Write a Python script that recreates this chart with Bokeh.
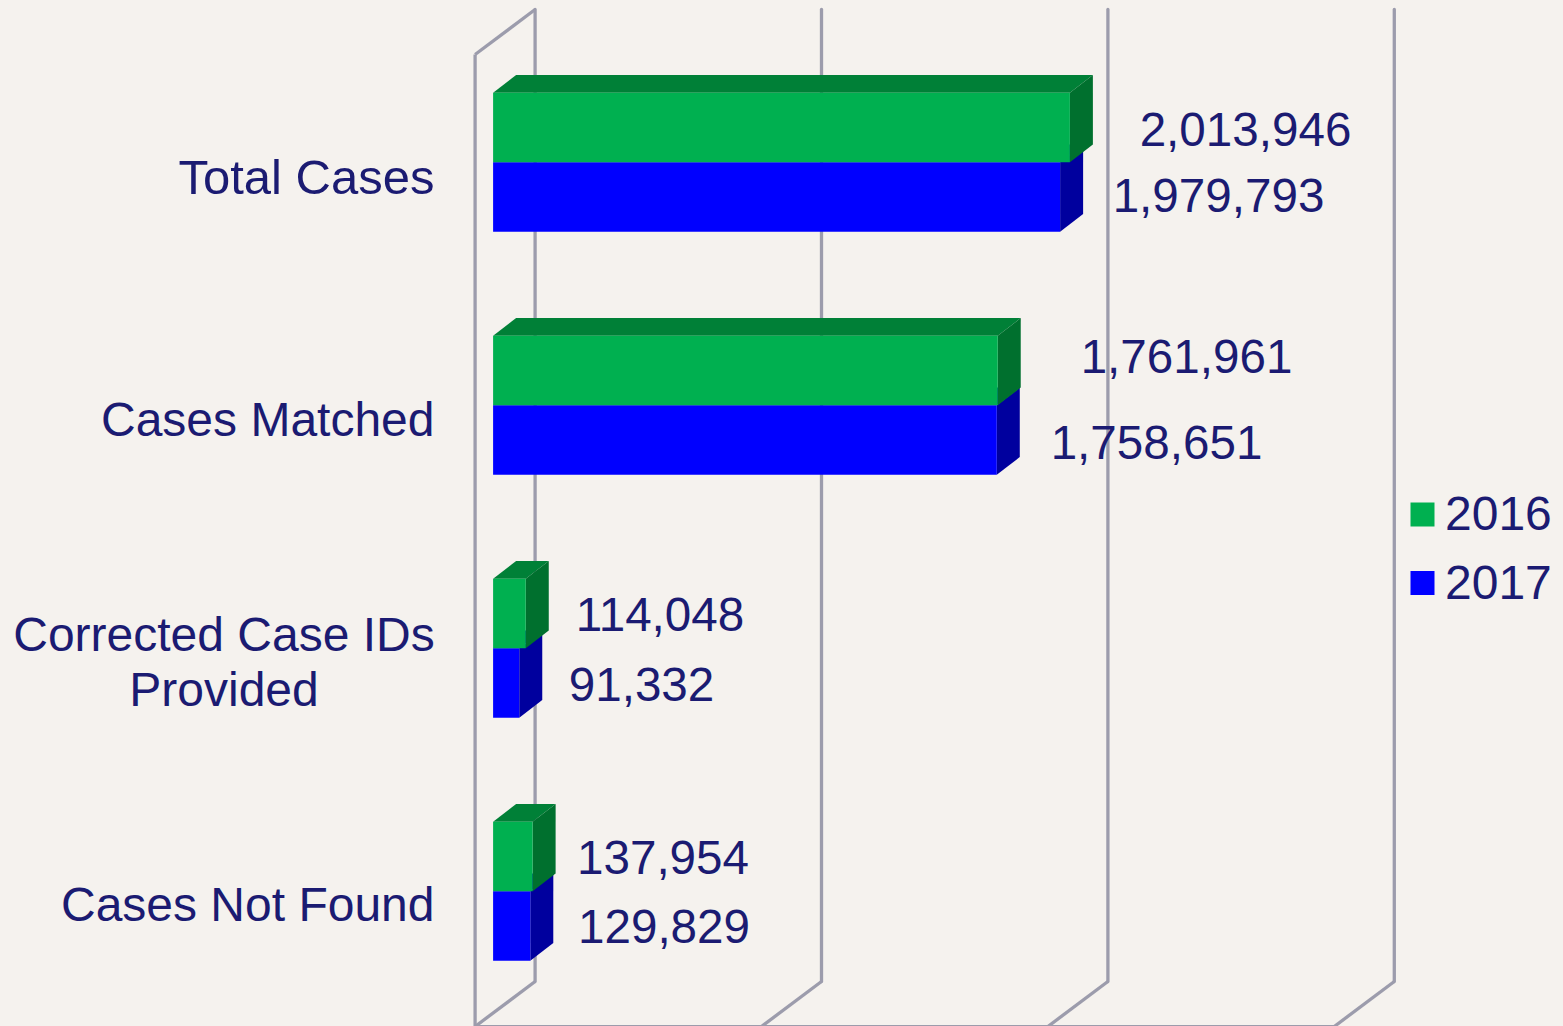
from bokeh.plotting import figure
from bokeh.models import Range1d, GlobalInlineStyleSheet
from bokeh.core.properties import value
from bokeh.embed import file_html
from bokeh.resources import INLINE

categories = ["Total Cases", "Cases Matched", "Corrected Case IDs\nProvided", "Cases Not Found"]
series_2016 = [2013946, 1761961, 114048, 137954]
series_2017 = [1979793, 1758651, 91332, 129829]
value_ticks = [0, 1000000, 2000000, 3000000]
legend_names = ["2016", "2017"]

W, H = 1563, 1026
PX_PER_UNIT = 286.4 / 1e6
ZERO_PX = 492.6
PX_PER_CAT = 243.0
FIRST_CAT_PX = 161.8
BG = "#F5F2EE"
TEXT = "#1B1B72"
GRID = "#9C9CAC"
FONT = value("Liberation Sans")
FS = "48px"
FS_VALUES = "47.6px"
LW = 3.3


def X(px):
    return (px - ZERO_PX) / PX_PER_UNIT


def Y(px):
    return (px - FIRST_CAT_PX) / PX_PER_CAT


p = figure(width=W, height=H, output_backend="svg", toolbar_location=None,
           x_range=Range1d(X(0), X(W)), y_range=Range1d(Y(H), Y(0)),
           min_border=0, outline_line_color=None,
           background_fill_color=BG, border_fill_color=BG)
p.axis.visible = False
p.grid.visible = False
p.stylesheets = [
    GlobalInlineStyleSheet(css=f"html,body{{margin:0;padding:0;background:{BG};overflow:hidden}}"),
]

# wall and floor
dx_u = 23 / PX_PER_UNIT
dy_u = 17.7 / PX_PER_CAT
back_dx = 42 / PX_PER_UNIT
front_dx = 18 / PX_PER_UNIT
top, bottom = Y(9), Y(981)
front_bottom = Y(1026)
for t in value_ticks:
    p.line([t + back_dx] * 2, [top, bottom], line_color=GRID, line_width=LW, line_cap="round")
    p.line([t + back_dx, t - front_dx], [bottom, front_bottom], line_color=GRID, line_width=LW)
p.line([-front_dx, -front_dx], [Y(54), front_bottom], line_color=GRID, line_width=LW)
p.line([back_dx, -front_dx], [top, Y(54)], line_color=GRID, line_width=LW)
p.line([-front_dx, value_ticks[-1] - front_dx], [Y(1025.5)] * 2, line_color=GRID, line_width=2)


def bars(vals, y0off, y1off, face, topc, side):
    for i, v in enumerate(vals):
        y0, y1 = i + y0off, i + y1off
        p.patch([0, dx_u, v + dx_u, v], [y0, y0 - dy_u, y0 - dy_u, y0], fill_color=topc, line_color=None)
        p.patch([v, v + dx_u, v + dx_u, v], [y0, y0 - dy_u, y1 - dy_u, y1], fill_color=side, line_color=None)
        p.quad(left=0, right=v, top=y0, bottom=y1, fill_color=face, line_color=None)


bh = 69.5 / PX_PER_CAT
bars(series_2017, 0, bh, "#0000FF", "#0000B0", "#00009E")
bars(series_2016, -bh, 0, "#00B050", "#008037", "#00702E")

# value labels
lab16 = [(1245, 129), (1186, 356), (659.5, 614), (662.5, 857)]
lab17 = [(1218, 195), (1156, 442), (641, 684), (663.5, 926)]
for vals, pos in ((series_2016, lab16), (series_2017, lab17)):
    p.text([X(a) for a, _ in pos], [Y(b) for _, b in pos], text=[f"{v:,}" for v in vals],
           text_font=FONT, text_font_size=FS_VALUES, text_color=TEXT,
           text_align="center", text_baseline="middle")

# category labels
for i, c in enumerate(categories):
    lines = c.split("\n")
    if i == 0:
        p.text([X(434)], [Y(176)], text=[c], text_font=FONT, text_font_size="49px",
               text_color=TEXT, text_align="right", text_baseline="middle")
    elif len(lines) == 1:
        ypx = [176, 419, 0, 904][i]
        p.text([X(434)], [Y(ypx)], text=[c], text_font=FONT, text_font_size=FS, text_color=TEXT,
               text_align="right", text_baseline="middle")
    else:
        for ln, ypx in zip(lines, (634, 689)):
            p.text([X(223.5)], [Y(ypx)], text=[ln], text_font=FONT, text_font_size=FS, text_color=TEXT,
                   text_align="center", text_baseline="middle")

# legend
for name, col, ypx in zip(legend_names, ("#00B050", "#0000FF"), (514, 582.5)):
    p.scatter([X(1422)], [Y(ypx)], marker="square", size=24, fill_color=col, line_color=None)
    p.text([X(1444.5)], [Y(ypx - 1)], text=[name], text_font=FONT, text_font_size=FS, text_color=TEXT,
           text_align="left", text_baseline="middle")

open("out.html", "w").write(file_html(p, INLINE))
